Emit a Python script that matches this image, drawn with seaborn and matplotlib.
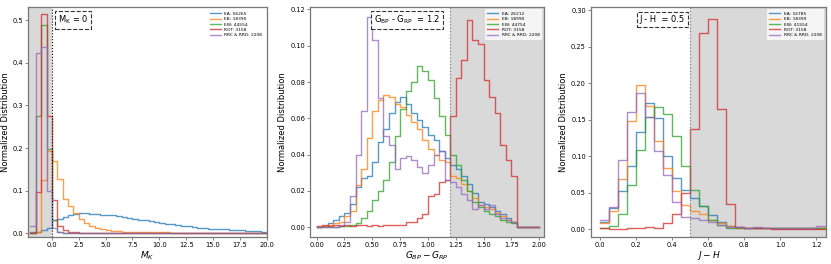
import numpy as np
import pandas as pd
import matplotlib
matplotlib.use("Agg")
import matplotlib.pyplot as plt
import seaborn as sns

# ---- data (normalized bin fractions) ----
colors = ['#1f77b4', '#ff7f0e', '#2ca02c', '#d62728', '#9467bd']

# Panel 1: M_K, bins of 0.5 from -2 to 20
mk_edges = np.arange(-2.0, 20.01, 0.5)
mk_labels = ['EA: 56265', 'EB: 18390', 'EW: 44554', 'ROT: 3158', 'RRC & RRD: 2208']
mk_ea = [0.003, 0.003, 0.008, 0.012, 0.031, 0.033, 0.038, 0.043, 0.046, 0.047, 0.047,
         0.046, 0.045, 0.044, 0.043, 0.042, 0.040, 0.038, 0.036, 0.034, 0.032, 0.030,
         0.028, 0.026, 0.024, 0.022, 0.021, 0.019, 0.018, 0.016, 0.015, 0.013, 0.012,
         0.011, 0.010, 0.009, 0.009, 0.008, 0.007, 0.007, 0.006, 0.005, 0.005, 0.004]
mk_eb = [0.0, 0.002, 0.125, 0.193, 0.170, 0.127, 0.080, 0.063, 0.048, 0.033, 0.024,
         0.016, 0.012, 0.009, 0.007, 0.006, 0.005, 0.004, 0.004, 0.003, 0.003, 0.002,
         0.002, 0.002, 0.002, 0.002, 0.001, 0.001, 0.001, 0.001, 0.001, 0.0, 0.0,
         0.0, 0.0, 0.0, 0.0, 0.0, 0.0, 0.0, 0.0, 0.0, 0.0, 0.0]
mk_ew = [0.0, 0.275, 0.490, 0.198, 0.030, 0.004, 0.001, 0.0, 0.0, 0.0, 0.0,
         0.0, 0.0, 0.0, 0.0, 0.0, 0.0, 0.0, 0.0, 0.0, 0.0, 0.0,
         0.0, 0.0, 0.0, 0.0, 0.0, 0.0, 0.0, 0.0, 0.0, 0.0, 0.0,
         0.0, 0.0, 0.0, 0.0, 0.0, 0.0, 0.0, 0.0, 0.0, 0.0, 0.0]
mk_rot = [0.0, 0.098, 0.515, 0.275, 0.077, 0.017, 0.008, 0.003, 0.002, 0.001, 0.0,
          0.0, 0.0, 0.0, 0.0, 0.0, 0.0, 0.0, 0.0, 0.0, 0.0, 0.0,
          0.0, 0.0, 0.0, 0.0, 0.0, 0.0, 0.0, 0.0, 0.0, 0.0, 0.0,
          0.0, 0.0, 0.0, 0.0, 0.0, 0.0, 0.0, 0.0, 0.0, 0.0, 0.0]
mk_rr = [0.018, 0.423, 0.437, 0.100, 0.012, 0.004, 0.001, 0.0, 0.0, 0.0, 0.0,
         0.0, 0.0, 0.0, 0.0, 0.0, 0.0, 0.0, 0.0, 0.0, 0.0, 0.0,
         0.0, 0.0, 0.0, 0.0, 0.0, 0.0, 0.0, 0.0, 0.0, 0.0, 0.0,
         0.0, 0.0, 0.0, 0.0, 0.0, 0.0, 0.0, 0.0, 0.0, 0.0, 0.0]

# Panel 2: G_BP - G_RP, bins of 0.05 from 0 to 2
bprp_edges = np.arange(0.0, 2.001, 0.05)
bprp_labels = ['EA: 26212', 'EB: 18990', 'EW: 44754', 'ROT: 3158', 'RRC & RRD: 2208']
bprp_ea = [0.0, 0.0005, 0.002, 0.004, 0.006, 0.008, 0.013, 0.022, 0.027, 0.028,
           0.036, 0.047, 0.054, 0.063, 0.069, 0.072, 0.068, 0.063, 0.059, 0.055,
           0.051, 0.048, 0.042, 0.038, 0.034, 0.032, 0.028, 0.024, 0.019, 0.014,
           0.013, 0.011, 0.009, 0.007, 0.005, 0.003, 0.0, 0.0, 0.0, 0.0]
bprp_eb = [0.0, 0.0005, 0.001, 0.002, 0.003, 0.006, 0.009, 0.023, 0.032, 0.049,
           0.064, 0.070, 0.073, 0.072, 0.068, 0.066, 0.062, 0.058, 0.054, 0.048,
           0.043, 0.040, 0.037, 0.036, 0.028, 0.027, 0.024, 0.020, 0.016, 0.012,
           0.011, 0.010, 0.008, 0.006, 0.004, 0.003, 0.0, 0.0, 0.0, 0.0]
bprp_ew = [0.0, 0.0, 0.0, 0.0, 0.0005, 0.0005, 0.001, 0.002, 0.005, 0.009,
           0.015, 0.020, 0.026, 0.036, 0.050, 0.065, 0.075, 0.080, 0.089, 0.086,
           0.081, 0.071, 0.061, 0.051, 0.040, 0.034, 0.026, 0.020, 0.014, 0.011,
           0.009, 0.007, 0.006, 0.004, 0.003, 0.002, 0.0, 0.0, 0.0, 0.0]
bprp_rot = [0.0005, 0.001, 0.0005, 0.001, 0.0005, 0.001, 0.0005, 0.001, 0.001, 0.0005,
            0.001, 0.0005, 0.001, 0.001, 0.001, 0.001, 0.003, 0.003, 0.005, 0.007,
            0.017, 0.018, 0.025, 0.026, 0.061, 0.082, 0.092, 0.114, 0.103, 0.101,
            0.081, 0.072, 0.063, 0.045, 0.037, 0.028, 0.0, 0.0, 0.0, 0.0]
bprp_rr = [0.0, 0.0, 0.0, 0.0, 0.001, 0.003, 0.017, 0.040, 0.064, 0.116,
           0.103, 0.071, 0.050, 0.045, 0.032, 0.038, 0.039, 0.037, 0.033, 0.030,
           0.034, 0.040, 0.042, 0.026, 0.025, 0.022, 0.018, 0.015, 0.010, 0.012,
           0.010, 0.012, 0.007, 0.005, 0.004, 0.003, 0.0, 0.0, 0.0, 0.0]

# Panel 3: J - H, bins of 0.05 from 0 to 1.25
jh_edges = np.arange(0.0, 1.2501, 0.05)
jh_labels = ['EA: 16785', 'EB: 18399', 'EW: 41554', 'ROT: 3158', 'RRC & RRD: 2208']
jh_ea = [0.010, 0.029, 0.052, 0.087, 0.133, 0.172, 0.152, 0.100, 0.070, 0.053,
         0.042, 0.031, 0.019, 0.010, 0.004, 0.003, 0.002, 0.002, 0.001, 0.001,
         0.001, 0.001, 0.001, 0.001, 0.001]
jh_eb = [0.008, 0.025, 0.068, 0.148, 0.198, 0.169, 0.121, 0.083, 0.052, 0.033,
         0.025, 0.020, 0.013, 0.008, 0.004, 0.002, 0.002, 0.001, 0.002, 0.001,
         0.001, 0.001, 0.001, 0.001, 0.001]
jh_ew = [0.001, 0.004, 0.020, 0.060, 0.108, 0.153, 0.167, 0.157, 0.128, 0.087,
         0.053, 0.031, 0.012, 0.005, 0.001, 0.001, 0.001, 0.001, 0.001, 0.001,
         0.001, 0.001, 0.001, 0.001, 0.001]
jh_rot = [0.001, 0.0, 0.0, 0.001, 0.001, 0.003, 0.002, 0.008, 0.020, 0.050,
          0.137, 0.268, 0.288, 0.165, 0.034, 0.003, 0.001, 0.001, 0.001, 0.0,
          0.0, 0.0, 0.0, 0.0, 0.0]
jh_rr = [0.013, 0.030, 0.094, 0.160, 0.186, 0.153, 0.107, 0.074, 0.037, 0.017,
         0.015, 0.012, 0.010, 0.005, 0.003, 0.003, 0.002, 0.003, 0.002, 0.002,
         0.001, 0.002, 0.001, 0.001, 0.004]


def draw_hists(ax, edges, series, labels):
    width = edges[1] - edges[0]
    centers = edges[:-1] + width / 2
    for vals, lab, col in zip(series, labels, colors):
        df = pd.DataFrame({'x': centers, 'w': vals})
        sns.histplot(data=df, x='x', weights='w', binwidth=width,
                     binrange=(edges[0], edges[-1]), element='step',
                     fill=False, color=col, alpha=0.75, linewidth=1.0,
                     label=lab, ax=ax)


def style_axes(ax, xlabel):
    ax.set_xlabel(xlabel, fontsize=6.5, labelpad=1)
    ax.set_ylabel('Normalized Distribution', fontsize=6, labelpad=2)
    ax.tick_params(labelsize=4.8, length=2, width=0.5, pad=1.5, color='#555555')
    for s in ax.spines.values():
        s.set_color('#777777')
        s.set_linewidth(0.9)
    leg = ax.legend(loc='upper right', fontsize=3.2, frameon=True,
                    handlelength=2.5, borderpad=0.5, labelspacing=0.3)
    leg.get_frame().set_edgecolor('none')
    leg.get_frame().set_facecolor('white')
    leg.get_frame().set_alpha(0.75)


box = dict(boxstyle='square,pad=0.35', fc='white', ec='#333333', ls='--', lw=0.8)
shade = '#d9d9d9'

fig = plt.figure(figsize=(8.31, 2.64), dpi=100)
ax1 = fig.add_axes([0.034, 0.102, 0.287, 0.871])
ax2 = fig.add_axes([0.373, 0.102, 0.282, 0.871])
ax3 = fig.add_axes([0.711, 0.102, 0.283, 0.871])

# Panel 1
ax1.axvspan(-2.2, 0, color=shade, zorder=0, lw=0)
draw_hists(ax1, mk_edges, [mk_ea, mk_eb, mk_ew, mk_rot, mk_rr], mk_labels)
ax1.axvline(0, color='black', ls=':', lw=0.8)
ax1.set_xlim(-2.2, 20)
ax1.set_ylim(-0.009, 0.531)
ax1.set_xticks(np.arange(0, 20.01, 2.5))
ax1.set_yticks(np.arange(0, 0.51, 0.1))
ax1.text(0.125, 0.945, r'$\mathrm{M_K}$ = 0', transform=ax1.transAxes,
         fontsize=6, va='center', ha='left', bbox=box)
style_axes(ax1, r'$M_K$')

# Panel 2
ax2.axvspan(1.2, 2.05, color=shade, zorder=0, lw=0)
draw_hists(ax2, bprp_edges, [bprp_ea, bprp_eb, bprp_ew, bprp_rot, bprp_rr], bprp_labels)
ax2.axvline(1.2, color='#888888', ls=':', lw=0.9)
ax2.set_xlim(-0.06, 2.045)
ax2.set_ylim(-0.0055, 0.1213)
ax2.set_xticks(np.arange(0, 2.001, 0.25))
ax2.set_yticks(np.arange(0, 0.121, 0.02))
ax2.text(0.555, 0.945, r'$\mathrm{G_{BP}}$ - $\mathrm{G_{RP}}$  = 1.2',
         transform=ax2.transAxes, fontsize=6, va='center', ha='right', bbox=box)
style_axes(ax2, r'$G_{BP} - G_{RP}$')

# Panel 3
ax3.axvspan(0.5, 1.26, color=shade, zorder=0, lw=0)
draw_hists(ax3, jh_edges, [jh_ea, jh_eb, jh_ew, jh_rot, jh_rr], jh_labels)
ax3.axvline(0.5, color='#888888', ls=':', lw=0.9)
ax3.set_xlim(-0.05, 1.254)
ax3.set_ylim(-0.011, 0.304)
ax3.set_xticks(np.arange(0, 1.21, 0.2))
ax3.set_yticks(np.arange(0, 0.301, 0.05))
ax3.text(0.40, 0.945, 'J - H  = 0.5', transform=ax3.transAxes,
         fontsize=6, va='center', ha='right', bbox=box)
style_axes(ax3, r'$J - H$')

fig.savefig('out.png', dpi=100)
